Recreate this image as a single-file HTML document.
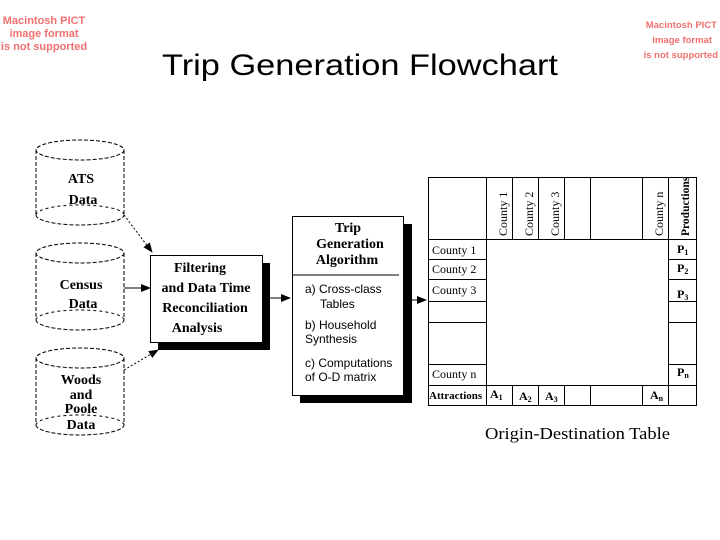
<!DOCTYPE html>
<html><head><style>body{margin:0;background:#fff}svg{display:block}</style></head><body>
<svg width="720" height="540" xmlns="http://www.w3.org/2000/svg" font-family="Liberation Serif, serif">
<defs><marker id="a" markerWidth="10" markerHeight="8" refX="9" refY="4" orient="auto" markerUnits="userSpaceOnUse"><path d="M0,0 L10,4 L0,8z" fill="#000"/></marker></defs>
<g font-family="Liberation Sans, sans-serif" font-size="11" font-weight="bold" fill="#f07070" text-anchor="middle">
<text x="44" y="24">Macintosh PICT</text><text x="44" y="37">image format</text><text x="44" y="50">is not supported</text>
</g>
<g font-family="Liberation Sans, sans-serif" font-size="9.5" font-weight="bold" fill="#f07070" text-anchor="end">
<text x="717" y="28">Macintosh PICT</text><text x="712" y="43">image format</text><text x="718" y="58">is not supported</text>
</g>
<text x="162" y="75" font-family="Liberation Sans, sans-serif" font-size="30" textLength="396" lengthAdjust="spacingAndGlyphs">Trip Generation Flowchart</text>
<g fill="none" stroke="#000" stroke-dasharray="4,2">
<ellipse cx="80" cy="150" rx="44" ry="10"/><path d="M36,150 V215 M124,150 V215"/><path d="M36,215 A44,10 0 0 0 124,215"/><path d="M36,215 A44,10 0 0 1 124,215" stroke-dasharray="3,3"/>
<ellipse cx="80" cy="253" rx="44" ry="10"/><path d="M36,253 V320 M124,253 V320"/><path d="M36,320 A44,10 0 0 0 124,320"/><path d="M36,320 A44,10 0 0 1 124,320" stroke-dasharray="3,3"/>
<ellipse cx="80" cy="358" rx="44" ry="10"/><path d="M36,358 V425 M124,358 V425"/><path d="M36,425 A44,10 0 0 0 124,425"/><path d="M36,425 A44,10 0 0 1 124,425" stroke-dasharray="3,3"/>
</g>
<g font-weight="bold" font-size="14" text-anchor="middle">
<text x="81" y="183">ATS</text><text x="83" y="204">Data</text>
<text x="81" y="289">Census</text><text x="83" y="308">Data</text>
<text x="81" y="384">Woods</text><text x="81" y="399">and</text><text x="81" y="413">Poole</text><text x="81" y="429">Data</text>
</g>
<g stroke="#000" fill="none">
<path d="M124,215 L152,252" stroke-dasharray="2,2" marker-end="url(#a)"/>
<path d="M124,288 L150,288" marker-end="url(#a)"/>
<path d="M124,370 L158,350" stroke-dasharray="2,2" marker-end="url(#a)"/>
<path d="M270,298 L290,298" marker-end="url(#a)"/>
<path d="M412,300 L426,300" marker-end="url(#a)"/>
</g>
<rect x="158" y="263" width="112" height="87" fill="#000"/>
<rect x="150.5" y="255.5" width="112" height="87" fill="#fff" stroke="#000"/>
<rect x="300" y="224" width="112" height="179" fill="#000"/>
<rect x="292.5" y="216.5" width="111" height="179" fill="#fff" stroke="#000"/>
<line x1="293" y1="275" x2="399" y2="275" stroke="#000"/>
<g font-weight="bold" font-size="14" text-anchor="middle">
<text x="200" y="272">Filtering</text><text x="206" y="292">and Data Time</text><text x="205" y="312">Reconciliation</text><text x="197" y="332">Analysis</text>
<text x="348" y="232">Trip</text><text x="350" y="248">Generation</text><text x="347" y="264">Algorithm</text>
</g>
<g font-family="Liberation Sans, sans-serif" font-size="12">
<text x="305" y="293">a) Cross-class</text><text x="320" y="308">Tables</text>
<text x="305" y="329">b) Household</text><text x="305" y="343">Synthesis</text>
<text x="305" y="367">c) Computations</text><text x="305" y="381">of O-D matrix</text>
</g>
<g stroke="#000" fill="none">
<rect x="428.5" y="177.5" width="268" height="228"/>
<path d="M486.5,177.5V406 M512.5,177.5V239 M538.5,177.5V239 M564.5,177.5V239 M590.5,177.5V239 M642.5,177.5V239 M668.5,177.5V406 M428.5,239.5H697"/>
<path d="M428,259.5H486 M428,279.5H486 M428,301.5H486 M428,322.5H486 M428,364.5H486 M428,385.5H697"/>
<path d="M668,259.5H697 M668,279.5H697 M668,301.5H697 M668,322.5H697 M668,364.5H697"/>
<path d="M512.5,385V406 M538.5,385V406 M564.5,385V406 M590.5,385V406 M642.5,385V406"/>
</g>
<g font-size="12">
<text transform="translate(507,236) rotate(-90)">County 1</text>
<text transform="translate(533,236) rotate(-90)">County 2</text>
<text transform="translate(559,236) rotate(-90)">County 3</text>
<text transform="translate(663,236) rotate(-90)">County n</text>
<text transform="translate(689,236) rotate(-90)" font-weight="bold" font-size="11.5">Productions</text>
<text x="432" y="254">County 1</text><text x="432" y="273">County 2</text><text x="432" y="294">County 3</text><text x="432" y="378">County n</text>
<text x="429" y="399" font-weight="bold" font-size="11">Attractions</text>
<g font-weight="bold"><text x="490" y="398">A<tspan font-size="8" dy="2">1</tspan></text><text x="519" y="400">A<tspan font-size="8" dy="2">2</tspan></text><text x="545" y="400">A<tspan font-size="8" dy="2">3</tspan></text><text x="650" y="399">A<tspan font-size="8" dy="2">n</tspan></text>
<text x="677" y="253">P<tspan font-size="8" dy="2">1</tspan></text><text x="677" y="272">P<tspan font-size="8" dy="2">2</tspan></text><text x="677" y="298">P<tspan font-size="8" dy="2">3</tspan></text><text x="677" y="376">P<tspan font-size="8" dy="2">n</tspan></text></g>
</g>
<text x="485" y="439" font-size="17" textLength="185" lengthAdjust="spacingAndGlyphs">Origin-Destination Table</text>
</svg>
</body></html>
